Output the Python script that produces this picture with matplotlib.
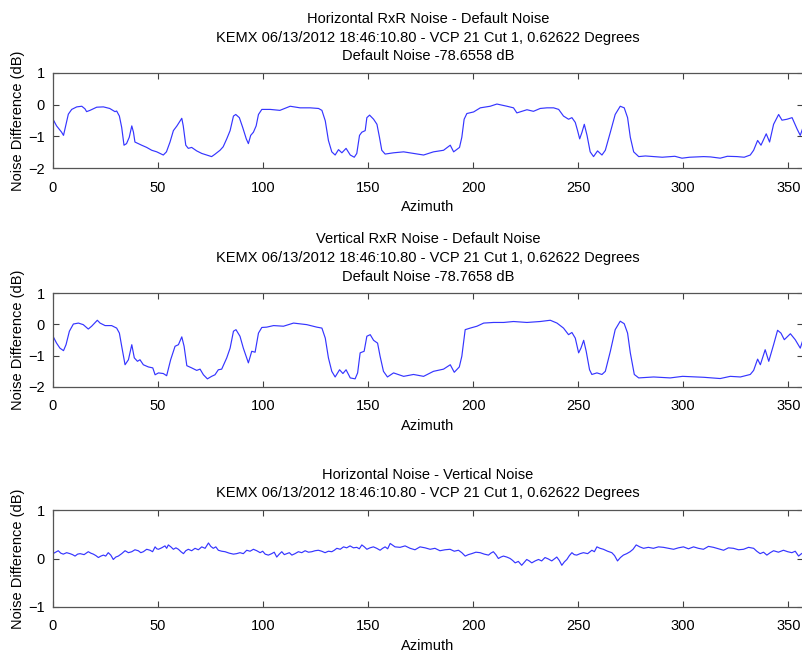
import matplotlib
matplotlib.use("Agg")
import matplotlib.pyplot as plt

plt.rcParams['font.family'] = ['Liberation Sans', 'DejaVu Sans']

# Horizontal RxR noise - default noise
h_az = [0, 1.7, 4.1, 5, 5.7, 7.3, 8.9, 11.3, 13.7, 15.2, 16, 17.6, 20.8, 24, 27, 29.5, 30.3,
        31.6, 32.7, 33.8, 35, 36.3, 37.5, 38.3, 39, 40.6, 42.2, 44.6, 47, 49.4, 51, 52.5, 54,
        55.7, 57.3, 59, 60.5, 61.3, 62, 63.2, 64.4, 66, 68.4, 70.8, 73.2, 75.5, 77, 79.5, 81,
        82.7, 84.3, 85.9, 87, 88.7, 90.3, 92, 93, 94.1, 95.4, 96.7, 97.8, 99.4, 101.7, 103.4,
        108, 112.9, 117.6, 122.4, 126.4, 128, 129.6, 131.1, 132.7, 134.3, 135.9, 137.5, 139.5,
        141.5, 143.4, 144.6, 145.9, 147, 148.6, 149.4, 150.7, 152.6, 154.2, 155.4, 156.5, 158.1,
        162.1, 166.9, 171.6, 176.4, 181.1, 185.9, 189.1, 190.7, 193.5, 194.6, 195.7, 197, 200.2,
        203.4, 208.1, 211.3, 216.1, 219.2, 220.8, 223.2, 225.6, 228.7, 231.9, 235.1, 238.3,
        240.7, 243, 245.4, 247, 248.6, 249.7, 250.7, 251.8, 252.9, 254.2, 255.7, 257.3, 259.2,
        261.3, 262.9, 265.3, 267.6, 270, 271.9, 273.5, 274.8, 276.4, 278.8, 282, 285.9, 290,
        293.8, 296, 299.4, 303, 309.7, 313, 317.6, 321, 325.6, 329, 331.9, 333.5, 335.4, 337,
        339.5, 341.1, 343, 345.4, 347, 349.4, 351.8, 354.2, 355.7, 357]
h_val = [-0.46, -0.67, -0.87, -0.97, -0.77, -0.30, -0.15, -0.07, -0.05, -0.13, -0.22, -0.18,
         -0.08, -0.07, -0.12, -0.22, -0.20, -0.36, -0.72, -1.28, -1.23, -1.03, -0.67, -0.87,
         -1.18, -1.23, -1.28, -1.35, -1.44, -1.49, -1.54, -1.59, -1.49, -1.18, -0.82, -0.67,
         -0.51, -0.43, -0.67, -1.28, -1.38, -1.35, -1.46, -1.54, -1.59, -1.64, -1.57, -1.44,
         -1.33, -1.08, -0.82, -0.36, -0.31, -0.41, -0.72, -1.08, -1.23, -0.97, -0.87, -0.67,
         -0.31, -0.15, -0.15, -0.15, -0.18, -0.05, -0.10, -0.10, -0.12, -0.18, -0.51, -1.13,
         -1.49, -1.59, -1.42, -1.52, -1.38, -1.59, -1.66, -1.54, -0.97, -0.87, -0.82, -0.41,
         -0.33, -0.46, -0.62, -1.03, -1.44, -1.56, -1.52, -1.49, -1.54, -1.59, -1.49, -1.44,
         -1.28, -1.49, -1.35, -1.03, -0.46, -0.28, -0.23, -0.10, -0.05, 0.02, -0.05, -0.10,
         -0.26, -0.21, -0.16, -0.21, -0.12, -0.10, -0.10, -0.15, -0.36, -0.46, -0.41, -0.56,
         -0.82, -1.08, -0.87, -0.62, -0.97, -1.49, -1.64, -1.46, -1.59, -1.44, -0.87, -0.31,
         -0.05, -0.10, -0.41, -1.03, -1.49, -1.64, -1.62, -1.64, -1.66, -1.64, -1.63, -1.69,
         -1.66, -1.64, -1.65, -1.69, -1.63, -1.64, -1.66, -1.59, -1.44, -1.13, -1.28, -0.92,
         -1.18, -0.62, -0.31, -0.49, -0.46, -0.41, -0.77, -0.97, -0.72]

# Vertical RxR noise - default noise
v_az = [0, 1.7, 3.3, 5, 6.2, 7.8, 9.7, 12.1, 14.4, 16.8, 18.4, 21.1, 22.4, 24.8, 27.9, 30.3,
        31.6, 32.7, 34.3, 35.9, 37.5, 38.7, 40.2, 41.4, 43, 45.4, 47.5, 48.6, 50.2, 52.5, 54.1,
        56, 58.1, 59.7, 61.3, 62.4, 63.7, 66, 68.4, 70, 71.6, 73.5, 75.5, 77.1, 78.7, 80.3,
        82.7, 84.3, 85.9, 87.1, 89, 90.6, 93, 94.6, 96.2, 97.8, 99.4, 101.7, 105, 109.7, 114.5,
        120.8, 125.6, 128, 129.6, 131.1, 132.7, 134.3, 136.4, 138, 139.5, 141.5, 143.8, 145,
        146.2, 148.1, 149.4, 151, 152.6, 154.5, 155.7, 157.3, 159.2, 162.1, 166.9, 171.6,
        176.4, 181.1, 185.9, 189.1, 191, 193.4, 194.6, 196.2, 198.6, 201.8, 205, 209.7, 214.5,
        219.2, 225.6, 231.9, 236.7, 239.9, 243, 245.4, 247, 248.6, 250.2, 251.3, 252.6, 253.8,
        255.4, 256.5, 258.9, 261.3, 262.9, 265.3, 267.6, 270, 271.9, 273.5, 274.8, 276.7,
        278.8, 285.9, 293.8, 299.7, 309.7, 317.6, 322.4, 327.2, 331.9, 333.5, 335.4, 336.7,
        339, 340.7, 343, 344.9, 346.5, 348.1, 351, 353.3, 355.7, 357]
v_val = [-0.38, -0.60, -0.76, -0.84, -0.65, -0.22, 0.01, 0.04, -0.01, -0.15, -0.06, 0.13,
         0.04, -0.04, -0.04, -0.12, -0.28, -0.70, -1.29, -1.13, -0.65, -1.07, -1.18, -1.13,
         -1.29, -1.36, -1.39, -1.61, -1.55, -1.57, -1.64, -1.13, -0.70, -0.65, -0.40, -0.70,
         -1.32, -1.39, -1.47, -1.43, -1.61, -1.74, -1.66, -1.61, -1.45, -1.43, -1.07, -0.76,
         -0.22, -0.17, -0.38, -0.76, -1.23, -0.86, -0.89, -0.28, -0.10, -0.09, -0.04, -0.06,
         0.04, -0.01, -0.09, -0.12, -0.44, -1.07, -1.50, -1.68, -1.45, -1.57, -1.45, -1.71,
         -1.74, -1.55, -0.91, -0.86, -0.38, -0.33, -0.51, -0.60, -1.02, -1.50, -1.68, -1.55,
         -1.66, -1.60, -1.66, -1.50, -1.43, -1.29, -1.53, -1.36, -1.02, -0.17, -0.12, -0.06,
         0.04, 0.06, 0.06, 0.09, 0.06, 0.09, 0.13, 0.04, -0.12, -0.33, -0.26, -0.44, -0.91,
         -0.76, -0.51, -0.86, -1.45, -1.60, -1.55, -1.60, -1.50, -0.86, -0.17, 0.10, 0.02,
         -0.28, -0.91, -1.60, -1.71, -1.68, -1.71, -1.66, -1.69, -1.73, -1.66, -1.68, -1.60,
         -1.47, -1.11, -1.29, -0.81, -1.18, -0.65, -0.19, -0.28, -0.49, -0.30, -0.49, -0.76,
         -0.49]

# Horizontal noise - vertical noise
d_az = [0, 1.2, 2.5, 3.7, 4.9, 6.5, 8.1, 9.3, 10.5, 11.7, 12.9, 14.8, 16.8, 18, 19.2, 20.4,
        21.6, 22.8, 24, 25.1, 26.3, 27.5, 28.7, 29.9, 31.1, 32.7, 34.3, 35.9, 37.5, 39, 40.6,
        41.8, 43, 44.6, 46.2, 47.4, 48.6, 49.4, 50.2, 51.7, 53.3, 54.1, 54.9, 56.1, 57.3, 58.5,
        59.7, 60.9, 62.1, 63.2, 64.4, 66, 67.6, 69.2, 70.8, 72.4, 74, 75.1, 76.3, 77.5, 78.7,
        80.3, 81.9, 83.9, 85.9, 87.4, 89, 90.6, 92.2, 93.8, 95.4, 97, 98.6, 99.8, 101, 102.5,
        104.1, 105.3, 106.5, 107.7, 108.9, 110.1, 111.3, 112.5, 113.7, 115.2, 116.8, 118.4,
        120, 121.6, 123.2, 124.7, 126.3, 127.9, 129.5, 131.1, 132.7, 133.9, 135.1, 136.7,
        138.3, 139.8, 141.4, 143, 144.6, 145.8, 147, 148.2, 149.4, 150.9, 152.5, 154.1, 155.7,
        156.9, 158.1, 159.3, 160.5, 162.8, 165.2, 167.6, 170, 172.3, 174.7, 177.1, 179.5,
        181.8, 184.2, 186.6, 189, 191, 193, 194.6, 196.2, 197.7, 199.3, 201.3, 203.3, 205.3,
        207.3, 208.4, 209.6, 210.8, 212, 213.2, 214.4, 216, 217.6, 218.8, 220, 221.5, 223.1,
        224.3, 225.5, 226.7, 227.9, 229.5, 231.1, 232.6, 234.2, 235.8, 237.4, 238.6, 239.8,
        241, 242.2, 243.4, 244.6, 245.8, 247, 248.1, 249.3, 250.9, 252.5, 254.5, 256.5, 257.7,
        258.9, 260.4, 262, 264, 266, 267.3, 268.7, 270.1, 271.5, 273.1, 274.7, 276.1, 277.6,
        279.3, 281.1, 283.4, 285.8, 288.2, 290.6, 293, 295.4, 297.7, 300.1, 302.5, 304.9,
        307.2, 309.6, 312, 314.4, 316.8, 319.2, 321.5, 323.9, 326.3, 328.7, 331.1, 333.5, 335,
        336.6, 338.2, 339.8, 341.4, 343, 345.3, 347.7, 349.7, 351.7, 353.3, 354.9, 356, 357]
d_val = [0.10, 0.13, 0.16, 0.11, 0.09, 0.12, 0.10, 0.08, 0.05, 0.09, 0.10, 0.08, 0.14, 0.11,
         0.09, 0.06, 0.02, 0.05, 0.07, 0.05, 0.12, 0.07, -0.02, 0.03, 0.05, 0.10, 0.16, 0.12,
         0.14, 0.18, 0.16, 0.12, 0.14, 0.19, 0.17, 0.14, 0.24, 0.20, 0.19, 0.22, 0.26, 0.21,
         0.28, 0.24, 0.19, 0.22, 0.19, 0.14, 0.10, 0.16, 0.19, 0.16, 0.21, 0.18, 0.24, 0.21,
         0.32, 0.25, 0.21, 0.24, 0.17, 0.15, 0.14, 0.11, 0.09, 0.10, 0.12, 0.10, 0.17, 0.15,
         0.19, 0.16, 0.12, 0.15, 0.09, 0.07, 0.10, 0.13, 0.03, 0.09, 0.14, 0.08, 0.10, 0.12,
         0.07, 0.10, 0.14, 0.12, 0.16, 0.13, 0.14, 0.16, 0.17, 0.15, 0.12, 0.15, 0.14, 0.17,
         0.21, 0.19, 0.24, 0.22, 0.26, 0.22, 0.23, 0.20, 0.28, 0.24, 0.19, 0.22, 0.24, 0.21,
         0.17, 0.21, 0.24, 0.20, 0.31, 0.24, 0.23, 0.26, 0.21, 0.18, 0.24, 0.22, 0.19, 0.21,
         0.16, 0.18, 0.19, 0.15, 0.17, 0.12, 0.05, 0.08, 0.10, 0.13, 0.12, 0.09, 0.07, 0.11,
         0.14, 0.08, 0.00, 0.03, 0.05, 0.03, 0.00, -0.04, -0.09, -0.06, -0.14, -0.08, -0.02,
         -0.05, -0.09, -0.05, -0.02, -0.05, 0.02, -0.01, -0.05, -0.01, 0.03, -0.04, -0.14,
         -0.07, -0.02, 0.06, 0.12, 0.08, 0.07, 0.10, 0.12, 0.10, 0.17, 0.14, 0.24, 0.21, 0.19,
         0.15, 0.12, 0.06, -0.05, 0.02, 0.07, 0.10, 0.14, 0.19, 0.28, 0.24, 0.21, 0.23, 0.21,
         0.24, 0.23, 0.21, 0.19, 0.22, 0.24, 0.20, 0.24, 0.21, 0.19, 0.25, 0.23, 0.20, 0.17,
         0.22, 0.21, 0.18, 0.19, 0.23, 0.21, 0.15, 0.10, 0.13, 0.07, 0.12, 0.16, 0.13, 0.17,
         0.14, 0.12, 0.15, 0.05, 0.09, 0.12]

stamp = "KEMX 06/13/2012 18:46:10.80 - VCP 21 Cut 1, 0.62622 Degrees"
titles = ["Horizontal RxR Noise - Default Noise\n" + stamp + "\nDefault Noise -78.6558 dB",
          "Vertical RxR Noise - Default Noise\n" + stamp + "\nDefault Noise -78.7658 dB",
          "Horizontal Noise - Vertical Noise\n" + stamp]

fig = plt.figure(figsize=(8.03, 6.55), dpi=100)
left, width = 53 / 803, 750 / 803
boxes = [(1 - 168 / 655, 95 / 655), (1 - 387 / 655, 94 / 655), (1 - 607 / 655, 97 / 655)]
series = [(h_az, h_val, (-2, 1)), (v_az, v_val, (-2, 1)), (d_az, d_val, (-1, 1))]

for (bottom, height), (az, val, ylim), title in zip(boxes, series, titles):
    ax = fig.add_axes([left, bottom, width, height])
    ax.plot(az, val, color='#3535ff', linewidth=0.85)
    ax.set_xlim(0, 357)
    ax.set_ylim(*ylim)
    ax.set_xticks(range(0, 351, 50))
    ax.set_yticks(range(ylim[0], ylim[1] + 1))
    ax.tick_params(direction='in', top=True, right=True, length=4, width=0.8,
                   color='#404040', labelsize=10.5)
    ax.tick_params(axis='x', pad=9)
    ax.tick_params(axis='y', pad=6)
    for sp in ax.spines.values():
        sp.set_color('#555555')
        sp.set_linewidth(0.9)
    ax.set_xlabel("Azimuth", fontsize=10.5, labelpad=4)
    ax.set_ylabel("Noise Difference (dB)", fontsize=10.5, labelpad=2)
    ax.set_title(title, fontsize=10.5, linespacing=1.45, pad=9)

plt.savefig("out.png", dpi=100)
